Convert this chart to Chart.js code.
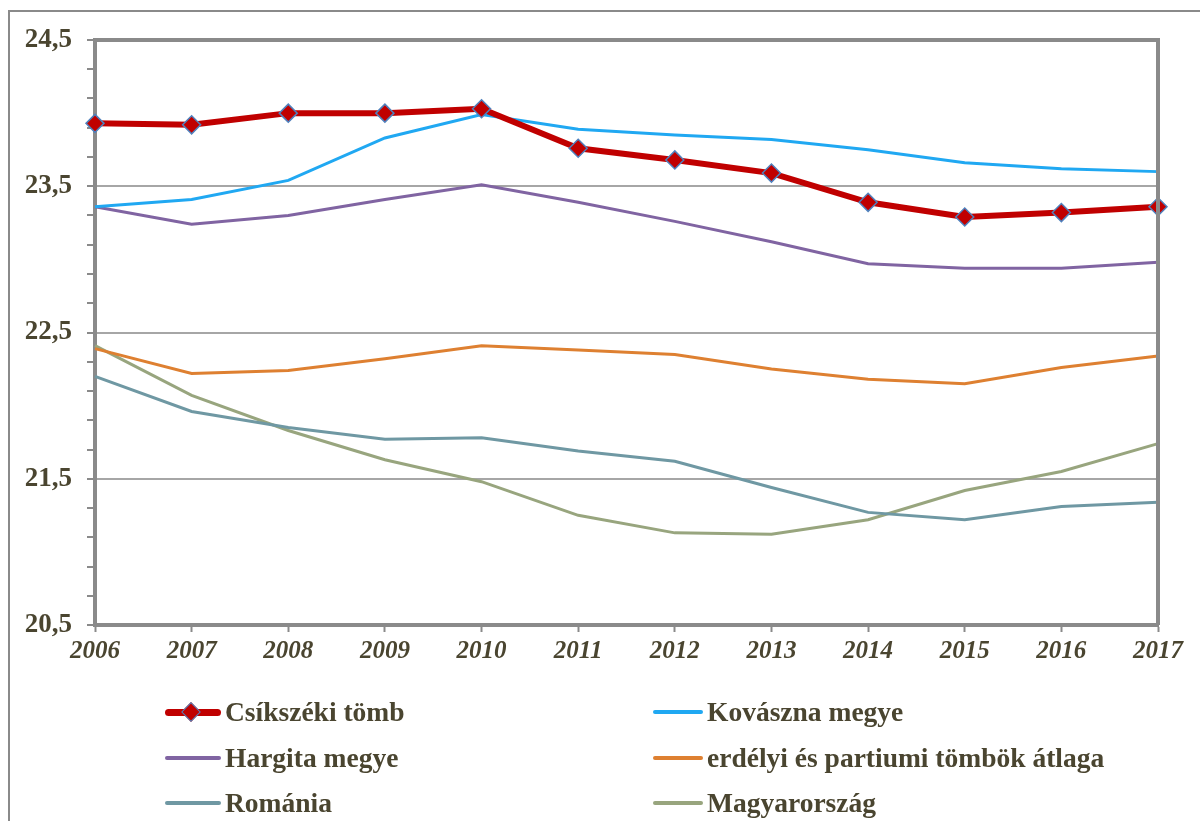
<!DOCTYPE html>
<html>
<head>
<meta charset="utf-8">
<script src="https://cdn.jsdelivr.net/npm/chart.js@4/dist/chart.umd.min.js"></script>
<style>
  html,body{margin:0;padding:0;background:#fff;}
  #wrap{position:relative;width:1200px;height:821px;overflow:hidden;}
  #frame{position:absolute;left:8px;top:10px;width:1300px;height:900px;border:2px solid #8a8a8a;box-sizing:border-box;}
  #c{position:absolute;left:0;top:0;}
  .lg{position:absolute;height:30px;display:flex;align-items:center;
      font-family:"Liberation Serif","Times New Roman",serif;font-weight:bold;font-size:27.5px;color:#4a4530;white-space:nowrap;}
  .lg .ln{position:relative;width:56px;height:4px;border-radius:2px;margin-right:4px;}
  .lg .mk{position:absolute;left:19px;top:-7px;width:14px;height:14px;transform:rotate(45deg);box-sizing:border-box;border:1.5px solid #4f81bd;}
</style>
</head>
<body>
<div id="wrap">
  <div id="frame"></div>
  <canvas id="c" width="1200" height="821"></canvas>
  <div id="legend"></div>
</div>
<script>
const years = ['2006','2007','2008','2009','2010','2011','2012','2013','2014','2015','2016','2017'];

const csikszek   = [23.93, 23.92, 24.00, 24.00, 24.03, 23.76, 23.68, 23.59, 23.39, 23.29, 23.32, 23.36];
const kovaszna   = [23.36, 23.41, 23.54, 23.83, 23.99, 23.89, 23.85, 23.82, 23.75, 23.66, 23.62, 23.60];
const hargita    = [23.36, 23.24, 23.30, 23.41, 23.51, 23.39, 23.26, 23.12, 22.97, 22.94, 22.94, 22.98];
const erdelyi    = [22.39, 22.22, 22.24, 22.32, 22.41, 22.38, 22.35, 22.25, 22.18, 22.15, 22.26, 22.34];
const romania    = [22.20, 21.96, 21.85, 21.77, 21.78, 21.69, 21.62, 21.44, 21.27, 21.22, 21.31, 21.34];
const magyar     = [22.41, 22.07, 21.83, 21.63, 21.48, 21.25, 21.13, 21.12, 21.22, 21.42, 21.55, 21.74];

const yMin = 20.5, yMax = 24.5, yStep = 0.2;

const series = [
  { label: 'Csíkszéki tömb', data: csikszek, color: '#c00000', width: 6, marker: true },
  { label: 'Kovászna megye', data: kovaszna, color: '#20a8f2', width: 3 },
  { label: 'Hargita megye', data: hargita, color: '#8064a2', width: 3 },
  { label: 'erdélyi és partiumi tömbök átlaga', data: erdelyi, color: '#de8031', width: 3 },
  { label: 'Románia', data: romania, color: '#6f98a3', width: 3 },
  { label: 'Magyarország', data: magyar, color: '#98a57e', width: 3 }
];

const txt = '#4a4530';
const axisGray = '#8a8a8a';
const isMajor = v => Math.abs(((v - yMin) % 1 + 1) % 1) < 1e-6 || Math.abs(((v - yMin) % 1) - 1) < 1e-6;

// keret a rajzterület tetején és jobb oldalán
const framePlugin = {
  id: 'plotFrame',
  afterDraw(chart){
    const a = chart.chartArea, ctx = chart.ctx;
    ctx.save();
    ctx.strokeStyle = axisGray;
    ctx.lineWidth = 4;
    ctx.beginPath();
    ctx.moveTo(a.left, a.top);
    ctx.lineTo(a.right, a.top);
    ctx.lineTo(a.right, a.bottom);
    ctx.stroke();
    ctx.restore();
  }
};

const chart = new Chart(document.getElementById('c'), {
  type: 'line',
  data: {
    labels: years,
    datasets: series.map(s => ({
      label: s.label,
      data: s.data,
      borderColor: s.color,
      backgroundColor: s.color,
      borderWidth: s.width,
      tension: 0,
      pointRadius: s.marker ? 9 : 0,
      pointStyle: 'rectRot',
      pointBackgroundColor: s.color,
      pointBorderColor: '#4f81bd',
      pointBorderWidth: 1.5,
      clip: false
    }))
  },
  options: {
    responsive: false,
    animation: false,
    layout: { padding: { left: 0, top: 40, right: 42, bottom: 0 } },
    plugins: { legend: { display: false }, tooltip: { enabled: false } },
    scales: {
      x: {
        offset: false,
        afterFit: s => { s.height = 196; },
        grid: { drawOnChartArea: false, drawTicks: true, tickLength: 7, tickColor: axisGray, tickWidth: 2 },
        border: { color: axisGray, width: 4 },
        ticks: {
          color: txt, padding: 5, maxRotation: 0,
          font: { family: '"Liberation Serif", serif', size: 25, weight: 'bold', style: 'italic' }
        }
      },
      y: {
        min: yMin, max: yMax,
        afterFit: s => { s.width = 95; },
        grid: {
          color: c => (isMajor(c.tick.value) && c.tick.value > yMin && c.tick.value < yMax) ? '#a6a6a6' : 'rgba(0,0,0,0)',
          lineWidth: 2,
          tickColor: axisGray, tickLength: 8, tickWidth: 2
        },
        border: { color: axisGray, width: 4 },
        ticks: {
          stepSize: yStep, autoSkip: false, color: txt, padding: 15,
          font: { family: '"Liberation Serif", serif', size: 27, weight: 'bold' },
          callback: v => isMajor(v) ? v.toFixed(1).replace('.', ',') : ''
        }
      }
    }
  },
  plugins: [framePlugin]
});

// jelmagyarázat két oszlopban
const lg = document.getElementById('legend');
const cols = [165, 653], rows = [712, 758, 803];
chart.data.datasets.forEach((ds, i) => {
  const s = series[i];
  const item = document.createElement('div');
  item.className = 'lg';
  item.style.left = cols[i % 2] + 'px';
  item.style.top = (rows[Math.floor(i / 2)] - 15) + 'px';
  const ln = document.createElement('div');
  ln.className = 'ln';
  ln.style.background = s.color;
  ln.style.width = (i % 2 ? 50 : 56) + 'px';
  if (s.marker) {
    ln.style.height = '7px';
    ln.style.borderRadius = '4px';
    const mk = document.createElement('div');
    mk.className = 'mk';
    mk.style.background = s.color;
    mk.style.top = '-4px';
    ln.appendChild(mk);
  }
  item.appendChild(ln);
  const t = document.createElement('span');
  t.textContent = ds.label;
  item.appendChild(t);
  lg.appendChild(item);
});
</script>
</body>
</html>
